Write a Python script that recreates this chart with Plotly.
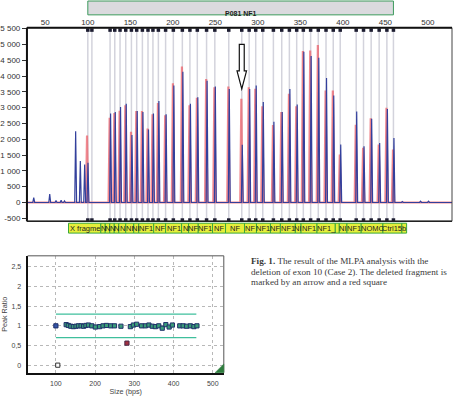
import plotly.graph_objects as go

# ---------------- data ----------------
# probe sizes (bp) of the P081 NF1 probemix
probe_bp = [126.2, 131.7, 137.9, 144.6, 151.3, 157.5, 164.2, 170.8, 176.6, 183.0,
            191.5, 200.6, 211.2, 220.1, 228.8, 239.7, 249.4, 265.8, 281.1, 289.8,
            297.5, 305.8, 318.3, 328.1, 337.1, 345.7, 353.5, 362.1, 371.1, 380.2,
            388.7, 396.9, 415.7, 424.3, 433.3, 442.7, 451.8, 459.5]
# reference (red) and sample (blue) peak heights
ref_height = [2677, 2833, 2900, 3073, 2240, 2896, 2896, 2344, 2792, 3146,
              2760, 3771, 4302, 3073, 3313, 3906, 3646, 3667, 3281, 3646,
              3600, 3042, 2448, 2865, 3437, 3042, 4792, 4812, 4979, 3542,
              3542, 1520, 2458, 1729, 2667, 1833, 3000, 1677]
sample_height = [2812, 2865, 3020, 3125, 2135, 2896, 2865, 2312, 2812, 3208,
                 2792, 3698, 4135, 3125, 3333, 3854, 3667, 3594, 1823, 3594,
                 3698, 3177, 2552, 2865, 3594, 3104, 4771, 4635, 4583, 3937,
                 3385, 1833, 2875, 1781, 2646, 1885, 2958, 2042]
# control fragments / small peaks outside the probe area
ctrl_bp = [35.8, 54.6, 62.0, 68.0, 72.0, 85.1, 90.6, 95.7, 99.6, 469.4, 490.8, 500.2]
ctrl_sample = [150, 270, 60, 70, 50, 2250, 1310, 1200, 1260, 30, 40, 40]
ctrl_ref_bp = [99.6]
ctrl_ref = [2115]
xy_bp = [100.0, 104.8]          # X / Y fragment positions
xy_ratio = [1.0, 0.0]
# peak ratios
ratio = [1.03, 1.01, 0.99, 0.98, 0.99, 1.00, 1.00, 0.99, 1.01, 1.02,
         1.00, 0.97, 0.98, 1.00, 1.01, 1.00, 1.00, 0.99, 0.56, 0.98,
         1.02, 1.04, 1.00, 1.00, 1.02, 0.99, 0.98, 1.00, 0.94, 1.03,
         0.97, 1.02, 1.00, 1.00, 0.99, 1.00, 0.98, 1.00]
deleted_index = 18
# labels in the yellow band (left edge in bp, text)
label_left_bp = [77.3, 115.3, 120.5, 125.8, 131.1, 136.4, 144.6, 154.0, 159.9, 177.5,
                 191.5, 210.3, 218.5, 229.9, 246.7, 262.0, 284.3, 298.4, 314.8, 326.5,
                 344.1, 350.8, 369.6, 391.1, 395.8, 404.8, 421.6, 447.1, 469.4, 475.0]
label_text = ["X fragme", "N", "N", "N", "N", "N", "NI", "NI", "NF1", "NF",
              "NF1", "N", "NF", "NF1", "NF", "NF", "NF", "NF1", "NF", "NF1",
              "NI", "NF1", "NF1_", "", "NI", "NF1", "NOMC", "Ctrl15", "b"]
main_yticks = list(range(-500, 5501, 500))
main_xticks = list(range(50, 501, 50))
ratio_yticks = [0, 0.5, 1, 1.5, 2, 2.5]
ratio_xticks = [100, 200, 300, 400, 500]

W, H = 455, 402
XR = [28.4, 528.4]
YR = [-594, 5531]


def px(x):
    return x / W


def py(y):
    return 1 - y / H


def peaks(xs, hs, shift, half):
    pts = sorted(zip(xs, hs))
    X = [XR[0]]
    Y = [0]
    for p, h in pts:
        p = p + shift
        X += [p - half, p, p + half]
        Y += [0, h, 0]
    X.append(XR[1])
    Y.append(0)
    return X, Y


fig = go.Figure()

# reference (red) trace
rx, ry = peaks(probe_bp + ctrl_ref_bp, ref_height + ctrl_ref, -0.5, 1.3)
fig.add_trace(go.Scatter(x=rx, y=ry, mode="lines",
                         line=dict(color="rgba(236,96,106,0.75)", width=2.2),
                         hoverinfo="skip", xaxis="x", yaxis="y"))
# sample (blue) trace
bx, by = peaks(probe_bp + ctrl_bp, sample_height + ctrl_sample, 0.6, 1.1)
fig.add_trace(go.Scatter(x=bx, y=by, mode="lines",
                         line=dict(color="#33409c", width=1.2),
                         hoverinfo="skip", xaxis="x", yaxis="y"))

all_lines = xy_bp + probe_bp
# probe markers top / bottom
for yv in (5455, -555):
    fig.add_trace(go.Scatter(x=all_lines, y=[yv] * len(all_lines), mode="markers",
                             marker=dict(symbol="square", size=3.5, color="#1c1c30"),
                             cliponaxis=False, hoverinfo="skip", xaxis="x", yaxis="y"))

# ratio plot points
norm_x = [b for i, b in enumerate(probe_bp) if i != deleted_index]
norm_y = [r for i, r in enumerate(ratio) if i != deleted_index]
fig.add_trace(go.Scatter(x=norm_x, y=norm_y, mode="markers",
                         marker=dict(symbol="square", size=4.2, color="#3a9c78",
                                     line=dict(color="#1f2f6a", width=1)),
                         hoverinfo="skip", xaxis="x2", yaxis="y2"))
fig.add_trace(go.Scatter(x=[probe_bp[deleted_index]], y=[ratio[deleted_index]], mode="markers",
                         marker=dict(symbol="square", size=4.2, color="#a33040",
                                     line=dict(color="#4a2a4a", width=1)),
                         hoverinfo="skip", xaxis="x2", yaxis="y2"))
fig.add_trace(go.Scatter(x=[xy_bp[0]], y=[xy_ratio[0]], mode="markers",
                         marker=dict(symbol="square", size=4.2, color="#3555a8",
                                     line=dict(color="#1f2f6a", width=1)),
                         hoverinfo="skip", xaxis="x2", yaxis="y2"))
fig.add_trace(go.Scatter(x=[xy_bp[1]], y=[xy_ratio[1]], mode="markers",
                         marker=dict(symbol="square", size=4.2, color="white",
                                     line=dict(color="#333", width=1)),
                         hoverinfo="skip", xaxis="x2", yaxis="y2", cliponaxis=False))

shapes = []
# gray probe lines
for b in all_lines:
    shapes.append(dict(type="line", xref="x", yref="paper", x0=b, x1=b,
                       y0=py(222), y1=py(25), line=dict(color="#d3d3dc", width=1.5),
                       layer="below"))
# main frame
shapes.append(dict(type="rect", xref="x domain", yref="y domain", x0=0, x1=1, y0=0, y1=1,
                   line=dict(color="#444", width=1)))
shapes.append(dict(type="line", xref="x domain", yref="y domain", x0=0, x1=1, y0=1, y1=1,
                   line=dict(color="#111", width=2)))
shapes.append(dict(type="line", xref="x domain", yref="y domain", x0=0, x1=0, y0=0, y1=1,
                   line=dict(color="#111", width=2)))
shapes.append(dict(type="line", xref="x domain", yref="y domain", x0=0, x1=1, y0=0, y1=0,
                   line=dict(color="#222", width=1.5)))
# top probemix band
shapes.append(dict(type="rect", xref="x", yref="paper", x0=xy_bp[0], x1=probe_bp[-1],
                   y0=py(12), y1=py(-2), fillcolor="#dadade",
                   line=dict(color="#3c9a5c", width=1)))
# arrow
ax = probe_bp[deleted_index]
sw, hw = 2.9, 5.6
path = (f"M {ax - sw},5000 L {ax + sw},5000 L {ax + sw},4166 L {ax + hw},4166 "
        f"L {ax},3594 L {ax - hw},4166 L {ax - sw},4166 Z")
shapes.append(dict(type="path", xref="x", yref="y", path=path, fillcolor="white",
                   line=dict(color="#111", width=1.2)))
# yellow label band
for i, t in enumerate(label_text):
    shapes.append(dict(type="rect", xref="x", yref="paper", x0=label_left_bp[i],
                       x1=label_left_bp[i + 1], y0=py(233), y1=py(223),
                       fillcolor="#e6ee3a", line=dict(color="#3aa83a", width=1)))
# ratio plot frame (top/right thin)
shapes.append(dict(type="line", xref="x2 domain", yref="y2 domain", x0=0, x1=1, y0=1, y1=1,
                   line=dict(color="#555", width=1)))
shapes.append(dict(type="line", xref="x2 domain", yref="y2 domain", x0=1, x1=1, y0=0, y1=1,
                   line=dict(color="#555", width=1)))
# green limits
for lv in (1.3, 0.7):
    shapes.append(dict(type="line", xref="x2", yref="y2", x0=xy_bp[0], x1=458, y0=lv, y1=lv,
                       line=dict(color="#3fbf9c", width=1.3)))
# green corner triangle
shapes.append(dict(type="path", xref="paper", yref="paper",
                   path=f"M {px(214.5)},{py(374.3)} L {px(223.3)},{py(374.3)} L {px(223.3)},{py(365.5)} Z",
                   fillcolor="#2e7d3e", line=dict(color="#2e7d3e", width=0.5)))

annotations = []
annotations.append(dict(x=(xy_bp[0] + probe_bp[-1]) / 2, y=py(5.5), xref="x", yref="paper",
                        text="<b>P081 NF1</b>", showarrow=False,
                        font=dict(family="Liberation Sans", size=7, color="#222")))
for i, t in enumerate(label_text):
    if t:
        annotations.append(dict(x=(label_left_bp[i] + label_left_bp[i + 1]) / 2, y=py(228.3),
                                xref="x", yref="paper", text=t, showarrow=False,
                                font=dict(family="Liberation Sans", size=7.5, color="#222"),
                                xanchor="center", yanchor="middle"))
cap = ["<b>Fig. 1.</b> The result of the MLPA analysis with the",
       "deletion of exon 10 (Case 2). The deleted fragment is",
       "marked by an arrow and a red square"]
for i, line in enumerate(cap):
    annotations.append(dict(x=px(248.5), y=py(261.5 + i * 10.5), xref="paper", yref="paper",
                            text=line, showarrow=False, xanchor="left", yanchor="middle",
                            font=dict(family="Liberation Serif", size=9.2, color="#3a3a3a")))

tick_font = dict(family="Liberation Sans", size=8, color="#333")
small_font = dict(family="Liberation Sans", size=7, color="#444")

fig.update_layout(
    width=W, height=H, autosize=False,
    margin=dict(l=0, r=0, t=0, b=0),
    paper_bgcolor="white", plot_bgcolor="white",
    showlegend=False,
    shapes=shapes, annotations=annotations,
    xaxis=dict(domain=[px(26), px(452)], range=XR, side="top",
               tickvals=main_xticks, ticktext=[str(v) for v in main_xticks],
               showgrid=False, zeroline=False, showline=False, ticks="",
               tickfont=tick_font, anchor="y"),
    yaxis=dict(domain=[py(221), py(25)], range=YR,
               tickvals=main_yticks,
               ticktext=[f"{v:,}".replace(",", " ") for v in main_yticks],
               showgrid=False, zeroline=False, showline=False,
               ticks="outside", ticklen=4, tickcolor="#333",
               tickfont=tick_font, anchor="x"),
    xaxis2=dict(domain=[px(26.7), px(223.3)], range=[28, 528], anchor="y2",
                tickvals=ratio_xticks, ticktext=[str(v) for v in ratio_xticks],
                showgrid=True, gridcolor="#b8b8b8", griddash="dot", gridwidth=1,
                zeroline=False, showline=True, linecolor="#111", linewidth=2,
                ticks="outside", ticklen=3, tickcolor="white", tickfont=small_font,
                title=dict(text="Size (bps)", font=dict(family="Liberation Sans", size=7.2, color="#444"),
                           standoff=2)),
    yaxis2=dict(domain=[py(374.3), py(256)], range=[-0.19, 2.78], anchor="x2",
                tickvals=ratio_yticks,
                ticktext=[str(v).replace(".", ",") if v % 1 else str(int(v)) for v in ratio_yticks],
                showgrid=True, gridcolor="#b8b8b8", griddash="dot", gridwidth=1,
                zeroline=False, showline=True, linecolor="#111", linewidth=2,
                ticks="outside", ticklen=3, tickcolor="white", tickfont=small_font,
                title=dict(text="Peak Ratio", font=dict(family="Liberation Sans", size=7.2, color="#444"),
                           standoff=4)),
)

fig.write_html("out.html")
